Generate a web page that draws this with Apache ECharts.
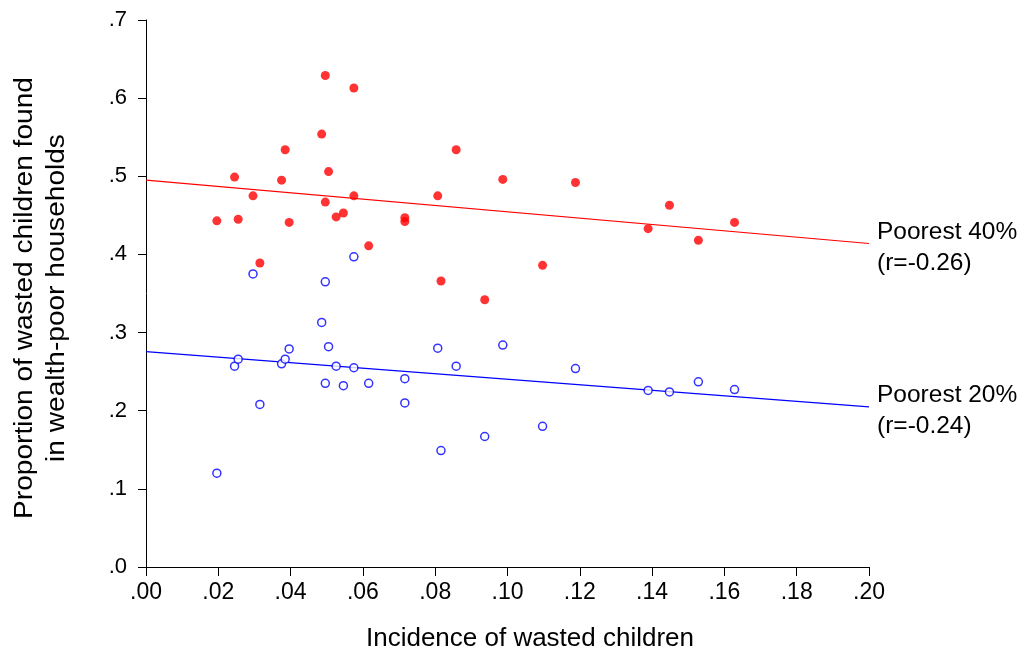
<!DOCTYPE html>
<html>
<head>
<meta charset="utf-8">
<script src="https://cdn.jsdelivr.net/npm/echarts@6/dist/echarts.min.js"></script>
<style>html,body{margin:0;padding:0;background:#fff}#c{width:1029px;height:655px}</style>
</head>
<body>
<div id="c"></div>
<script>
// Incidence of wasted children (x), one per country
const incidence = [0.0196,0.0245,0.0255,0.0296,0.0315,0.0375,0.0385,0.0396,0.0486,0.0496,0.0496,0.0505,0.0526,0.0546,0.0575,0.0575,0.0616,0.0716,0.0716,0.0807,0.0816,0.0858,0.0937,0.0987,0.1097,0.1188,0.1389,0.1448,0.1528,0.1628];
// Proportion in poorest 40%
const poorest40 = [0.443,0.499,0.445,0.475,0.389,0.495,0.534,0.441,0.554,0.629,0.467,0.506,0.448,0.453,0.613,0.475,0.411,0.447,0.442,0.475,0.366,0.534,0.342,0.496,0.386,0.492,0.433,0.463,0.418,0.441];
// Proportion in poorest 20%
const poorest20 = [0.120,0.257,0.266,0.375,0.208,0.260,0.266,0.279,0.313,0.365,0.235,0.282,0.257,0.232,0.397,0.255,0.235,0.241,0.210,0.280,0.149,0.257,0.167,0.284,0.180,0.254,0.226,0.224,0.237,0.227];
// Fitted lines (endpoints at x = 0 and x = 0.2)
const fitX = [0, 0.2];
const fit40 = [0.495, 0.414];
const fit20 = [0.2755, 0.205];
const fitLabels = ['Poorest 40%\n(r=-0.26)', 'Poorest 20%\n(r=-0.24)'];
const xTickLabels = ['.00','.02','.04','.06','.08','.10','.12','.14','.16','.18','.20'];
const yTickLabels = ['.0','.1','.2','.3','.4','.5','.6','.7'];
const xTitle = 'Incidence of wasted children';
const yTitle = 'Proportion of wasted children found\nin wealth-poor households';

const font = '"Liberation Sans", Arial, sans-serif';
const chart = echarts.init(document.getElementById('c'), null, {renderer: 'canvas'});
const zip = (xs, ys) => xs.map((x, i) => [x, ys[i]]);

chart.setOption({
  animation: false,
  backgroundColor: '#fff',
  grid: {left: 146, right: 160, top: 20, bottom: 88, containLabel: false},
  xAxis: {
    type: 'value', min: 0, max: 0.2, interval: 0.02,
    axisLine: {show: true, lineStyle: {color: '#000', width: 1}},
    axisTick: {show: true, length: 9, lineStyle: {color: '#000'}},
    axisLabel: {fontFamily: font, fontSize: 23, color: '#000', margin: 14,
      formatter: v => xTickLabels[Math.round(v / 0.02)]},
    splitLine: {show: false}
  },
  yAxis: {
    type: 'value', min: 0, max: 0.7, interval: 0.1,
    axisLine: {show: true, lineStyle: {color: '#000', width: 1}},
    axisTick: {show: true, length: 8, lineStyle: {color: '#000'}},
    axisLabel: {fontFamily: font, fontSize: 22, color: '#000', margin: 19,
      formatter: v => yTickLabels[Math.round(v / 0.1)]},
    splitLine: {show: false}
  },
  graphic: [
    {type: 'text', x: 530, y: 639, style: {text: xTitle, font: '26px ' + font, fill: '#000', align: 'center', verticalAlign: 'middle'}},
    {type: 'text', x: 41, y: 298, rotation: Math.PI / 2, scaleX: 1.08,
      style: {text: yTitle, font: '26px ' + font, fill: '#000', align: 'center', verticalAlign: 'middle', lineHeight: 32}}
  ],
  series: [
    {type: 'line', data: zip(fitX, fit40), showSymbol: false, symbol: 'none',
      lineStyle: {color: '#ff0000', width: 1.2}, z: 1,
      endLabel: {show: true, formatter: fitLabels[0], fontFamily: font, fontSize: 24.5, color: '#000',
        lineHeight: 31, align: 'left', verticalAlign: 'middle', distance: 8, offset: [0, 4]}},
    {type: 'line', data: zip(fitX, fit20), showSymbol: false, symbol: 'none',
      lineStyle: {color: '#0000ff', width: 1.2}, z: 1,
      endLabel: {show: true, formatter: fitLabels[1], fontFamily: font, fontSize: 24.5, color: '#000',
        lineHeight: 31, align: 'left', verticalAlign: 'middle', distance: 8, offset: [0, 4]}},
    {type: 'scatter', data: zip(incidence, poorest40), symbol: 'circle', symbolSize: 9,
      itemStyle: {color: '#ff0000'}, z: 3},
    {type: 'scatter', data: zip(incidence, poorest20), symbol: 'circle', symbolSize: 8,
      itemStyle: {color: '#fff', borderColor: '#0000ff', borderWidth: 1.5}, z: 3}
  ]
});
</script>
</body>
</html>
